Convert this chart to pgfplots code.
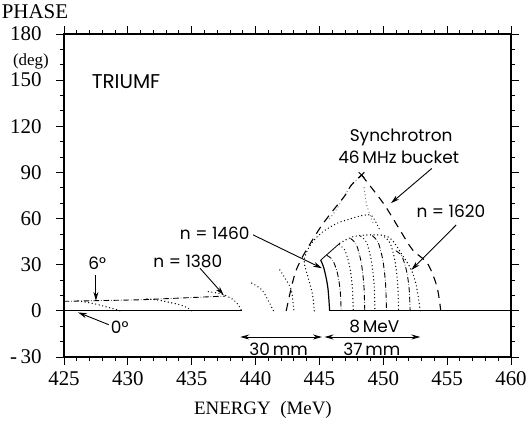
\documentclass[border=0pt]{standalone}
\usepackage{pgfplots}
\pgfplotsset{compat=1.18}
\usepackage{fontspec}
\setmainfont{Liberation Serif}
\newfontfamily\annfont{Poppins}
\usetikzlibrary{arrows.meta,calc}
\begin{document}
\begin{tikzpicture}[
  dots/.style={black, line width=1.4pt, line cap=round, dash pattern=on 0pt off 3.6pt},
  dashdots/.style={black, line width=0.9pt, line cap=round, dash pattern=on 5pt off 2.5pt on 0pt off 2.5pt},
  bucket/.style={black, line width=1.1pt, dash pattern=on 8pt off 6pt},
  ann/.style={font=\annfont\fontsize{17}{19}\selectfont},
  arr/.style={-{Stealth[length=9pt,width=5pt]}, line width=0.9pt},
]
\begin{axis}[
  width=447bp, height=323bp, scale only axis,
  xmin=425, xmax=460, ymin=-30, ymax=180,
  xtick={425,430,...,460}, minor x tick num=4,
  ytick={-30,0,...,180}, minor y tick num=2,
  xticklabels={425,430,435,440,445,450,455,460},
  yticklabels={-\,30,0,30,60,90,120,150,180},
  tick align=outside, major tick length=8bp, minor tick length=4bp,
  axis line style={line width=1.1pt},
  tick style={black, line width=0.9pt},
  ticklabel style={font=\fontsize{21}{21}\selectfont},
  yticklabel style={xshift=-11bp},
  xticklabel style={yshift=-3bp},
  clip=false,
]
% baselines
\addplot[black, line width=1.1pt] coordinates {(425,0) (438.9,0)};
\addplot[black, line width=1.1pt] coordinates {(445.8,0) (460,0)};
% 6 deg line
\addplot[dashdots] coordinates {(425,6.2) (431,7.2) (437.6,9.6)};
% early trajectories
\addplot[dots, smooth] coordinates {(426.1,6.5) (427.4,4.6) (428.3,2.6) (429.0,1.1) (429.4,0)};
\addplot[dots, smooth] coordinates {(431.5,7.8) (432.3,7.1) (433.0,6.0) (434.1,3.9) (434.7,1.8) (435.0,0)};
\addplot[dots, smooth] coordinates {(436.3,12.5) (437.1,11.5) (437.6,10.2) (438.3,7) (438.7,3.2) (438.9,0)};
\addplot[dots, smooth] coordinates {(439.7,18) (440.5,13.6) (441.1,5) (441.4,0)};
\addplot[dots, smooth] coordinates {(441.9,26.6) (442.4,20) (442.8,13.6) (442.95,4) (443.0,0)};
\addplot[dots, smooth] coordinates {(444.6,0) (444.45,11) (444.1,22) (443.8,33) (444.3,43) (445.2,51) (446.4,57) (447.3,59.5) (448.2,61.7) (449.0,62.3) (449.4,58) (449.7,53)};
\addplot[dots, smooth, gray] coordinates {(445.8,60) (446.3,65.6) (447.0,75) (447.4,80.7) (448.0,86)};
\addplot[dots, smooth, gray] coordinates {(448.5,80) (448.7,69) (449.2,57)};
% synchrotron bucket
\addplot[bucket, smooth] coordinates {(442.4,0) (442.7,11.6) (443.1,24.6) (443.6,34) (444.3,44) (445.2,55.8) (446.1,65.6) (447.0,75) (447.5,81.8) (448.3,88.3)};
\addplot[bucket, smooth] coordinates {(448.3,88.3) (450.0,70) (451.2,54) (452.3,39.6) (453.45,31) (454.2,15.8) (454.5,0)};
\addplot[only marks, mark=x, mark size=4pt, line width=1pt, black] coordinates {(448.3,88.3)};
% n = 1460 curve and envelope
\addplot[black, line width=1.2pt, smooth] coordinates {(445.8,0) (445.65,15.8) (445.35,27.7) (445.1,33)};
\addplot[black, line width=0.8pt] coordinates {(445.1,33) (446.6,44)};
\addplot[dots, smooth] coordinates {(446.6,44) (447.65,48.3) (449,49.4) (450.1,48.9) (450.7,46) (451.4,37.5) (452.2,26.6) (452.6,15.8) (452.9,0)};
% nested trajectories
\addplot[dashdots, smooth] coordinates {(445.6,36) (446.04,33) (446.37,25.7) (446.535,19) (446.645,11.2) (446.7,0)};
\addplot[dots, smooth] coordinates {(446.55,43) (446.99,39.4) (447.32,30.7) (447.485,22.7) (447.595,13.4) (447.65,0)};
\addplot[dashdots, smooth] coordinates {(447.45,47) (447.89,43.1) (448.22,33.6) (448.385,24.8) (448.495,14.7) (448.55,0)};
\addplot[dots, smooth] coordinates {(448.25,48.5) (448.69,44.5) (449.02,34.6) (449.185,25.6) (449.295,15.1) (449.35,0)};
\addplot[dashdots, smooth] coordinates {(449.15,48.8) (449.59,44.7) (449.92,34.8) (450.085,25.7) (450.195,15.2) (450.25,0)};
\addplot[dots, smooth] coordinates {(450.1,48) (450.54,44) (450.87,34.3) (451.035,25.3) (451.145,15) (451.2,0)};
\addplot[dashdots, smooth] coordinates {(451.0,39) (451.44,35.8) (451.77,27.8) (451.935,20.6) (452.045,12.2) (452.1,0)};

% annotations
\node[font=\annfont\fontsize{20}{22}\selectfont, anchor=west] at (axis cs:426.9,149) {TRIUMF};
\node[ann] at (axis cs:427.6,31) {6°};
\draw[arr] (axis cs:427.5,23.4) -- (axis cs:427.5,6.5);
\node[ann, anchor=west] at (axis cs:428.4,-11) {0°};
\draw[arr] (axis cs:428.5,-9) -- (axis cs:426.1,-1);
\node[ann] at (axis cs:434.7,32) {n = 1380};
\draw[arr] (axis cs:435.65,27.7) -- (axis cs:437.5,10.4);
\node[ann] at (axis cs:436.8,50.4) {n = 1460};
\draw[arr] (axis cs:439.8,49.4) -- (axis cs:445.2,27.7);
\node[ann] at (axis cs:455.3,64.5) {n = 1620};
\draw[arr] (axis cs:455.7,55.8) -- (axis cs:452.2,26.6);
\node[ann] at (axis cs:451.4,113) {Synchrotron};
\node[ann] at (axis cs:451.2,100) {46\,MHz bucket};
\draw[arr] (axis cs:453.8,92.6) -- (axis cs:450.6,70);
\node[ann] at (axis cs:449.3,-10.2) {8\,MeV};
\node[ann] at (axis cs:449.1,-25.3) {37\,mm};
\node[ann] at (axis cs:441.8,-25.3) {30\,mm};
\draw[{Stealth[length=9pt,width=5pt]}-{Stealth[length=9pt,width=5pt]}, line width=0.9pt] (axis cs:438.8,-17) -- (axis cs:445.2,-17);
\draw[{Stealth[length=9pt,width=5pt]}-{Stealth[length=9pt,width=5pt]}, line width=0.9pt] (axis cs:445.4,-17) -- (axis cs:452.9,-17);

% axis titles
\node[font=\fontsize{21}{21}\selectfont] at (rel axis cs:-0.065,1.068) {PHASE};
\node[font=\fontsize{17}{17}\selectfont, inner sep=0pt] at (rel axis cs:-0.074,0.915) {(deg)};
\node[font=\fontsize{19}{19}\selectfont] at (rel axis cs:0.445,-0.164) {ENERGY\ \ (MeV)};

\coordinate (sw) at (rel axis cs:0,0);
\coordinate (ne) at (rel axis cs:1,1);
\end{axis}
\pgfresetboundingbox
\path[use as bounding box] ($(sw)+(-64bp,-76bp)$) rectangle ($(ne)+(17bp,34bp)$);
\end{tikzpicture}
\end{document}
